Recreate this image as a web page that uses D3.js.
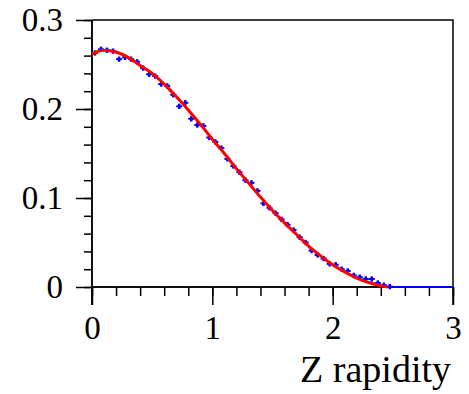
<!DOCTYPE html>
<html><head><meta charset="utf-8">
<script src="https://cdn.jsdelivr.net/npm/d3@7/dist/d3.min.js"></script>
<style>html,body{margin:0;padding:0;background:#fff;}svg{display:block;}</style>
</head><body>
<svg id="c" width="469" height="394"></svg>
<script>
// Histogram bins (width 0.05) — Z rapidity distribution
const binWidth = 0.05;
const binCenters = d3.range(60).map(i => +(0.025 + i * binWidth).toFixed(3));
const binValues = [
  0.263, 0.267, 0.266, 0.265, 0.256, 0.258, 0.256, 0.253, 0.246, 0.239,
  0.237, 0.228, 0.226, 0.216, 0.203, 0.207, 0.189, 0.182, 0.181, 0.168,
  0.163, 0.156, 0.144, 0.136, 0.129, 0.120, 0.117, 0.108, 0.094, 0.089,
  0.083, 0.076, 0.070, 0.064, 0.056, 0.050, 0.041, 0.036, 0.032, 0.026,
  0.025, 0.020, 0.018, 0.013, 0.011, 0.009, 0.009, 0.0045, 0.002, 0.0005,
  0, 0, 0, 0, 0, 0, 0, 0, 0, 0
];
const binErrors = binValues.map(v => v > 0 ? 0.003 : 0);
// Fit curve samples
const fitX = [0, 0.1, 0.2, 0.3, 0.4, 0.5, 0.6, 0.7, 0.8, 0.9, 1.0, 1.1, 1.2, 1.3, 1.4, 1.5, 1.6, 1.7, 1.8, 1.9, 2.0, 2.1, 2.2, 2.3, 2.4, 2.46];
const fitY = [0.262, 0.266, 0.264, 0.258, 0.249, 0.240, 0.228, 0.214, 0.199, 0.183, 0.166, 0.150, 0.133, 0.117, 0.101, 0.086, 0.072, 0.059, 0.046, 0.035, 0.025, 0.017, 0.010, 0.005, 0.0015, 0];
const xTicks = [0, 1, 2, 3];
const yTicks = [0, 0.1, 0.2, 0.3];
const xTitle = "Z rapidity";

const L = 92, R = 453, T = 20, B = 287;
const svg = d3.select("#c");
const x = d3.scaleLinear().domain([0, 3]).range([L, R]);
const y = d3.scaleLinear().domain([0, 0.3]).range([B, T]);
const font = "Liberation Serif";

// frame
svg.append("path").attr("d", `M${L},${T}H${R}V${B}`)
  .attr("fill", "none").attr("stroke", "#000").attr("stroke-width", 1.5);

// axes
const xAxis = svg.append("g").attr("transform", `translate(0,${B})`);
xAxis.call(d3.axisBottom(x).tickValues(d3.range(0, 3.0001, 0.2)).tickSize(9).tickFormat(""));
xAxis.selectAll(".tick line").attr("stroke-width", 1.5);
const xMaj = svg.append("g").attr("transform", `translate(0,${B})`)
  .call(d3.axisBottom(x).tickValues(xTicks).tickSize(18).tickPadding(11).tickFormat(d3.format("d")));
xMaj.selectAll(".tick line").attr("stroke-width", 1.5);
xMaj.selectAll(".tick text").attr("font-family", font).attr("font-size", 33).attr("fill", "#000");
[xAxis, xMaj].forEach(a => a.select(".domain").attr("stroke-width", 1.5).attr("d", `M${L},0H${R}`));

const yAxis = svg.append("g").attr("transform", `translate(${L},0)`);
yAxis.call(d3.axisLeft(y).tickValues(d3.range(0, 0.3001, 0.02)).tickSize(8).tickFormat(""));
yAxis.selectAll(".tick line").attr("stroke-width", 1.5);
const yMaj = svg.append("g").attr("transform", `translate(${L},0)`)
  .call(d3.axisLeft(y).tickValues(yTicks).tickSize(16).tickPadding(13).tickFormat(d => d === 0 ? "0" : d3.format(".1f")(d)));
yMaj.selectAll(".tick line").attr("stroke-width", 1.5);
yMaj.selectAll(".tick text").attr("font-family", font).attr("font-size", 33).attr("fill", "#000");
[yAxis, yMaj].forEach(a => a.select(".domain").attr("stroke-width", 1.5).attr("d", `M0,${T}V${B + 18}`));
svg.append("line").attr("x1", R).attr("x2", R).attr("y1", B).attr("y2", B + 18).attr("stroke", "#000").attr("stroke-width", 1.5);

// data (drawn over the axes)
const g = svg.append("g");
binCenters.forEach((c, i) => {
  const v = binValues[i];
  g.append("line").attr("x1", x(c - binWidth / 2)).attr("x2", x(c + binWidth / 2))
    .attr("y1", y(v)).attr("y2", y(v)).attr("stroke", "#0000ff").attr("stroke-width", 2);
  if (binErrors[i] > 0) {
    g.append("line").attr("x1", x(c)).attr("x2", x(c))
      .attr("y1", y(v - binErrors[i])).attr("y2", y(v + binErrors[i]))
      .attr("stroke", "#0000ff").attr("stroke-width", 2.5);
  }
});

const fitData = fitX.map((v, i) => [v, fitY[i]]);
svg.append("path").datum(fitData)
  .attr("d", d3.line().x(d => x(d[0])).y(d => y(d[1])).curve(d3.curveMonotoneX))
  .attr("fill", "none").attr("stroke", "#ff0000").attr("stroke-width", 3);

svg.append("text").attr("x", 451).attr("y", 382).attr("text-anchor", "end")
  .attr("font-family", font).attr("font-size", 38).attr("fill", "#000").text(xTitle);
</script>
</body></html>
